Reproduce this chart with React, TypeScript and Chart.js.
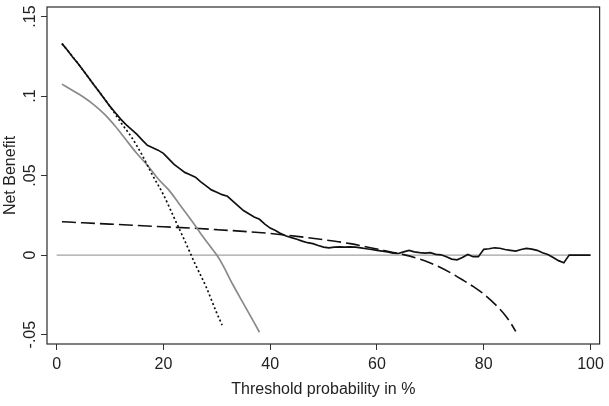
import React, { useEffect, useRef } from "react";
import { Chart, registerables } from "chart.js";

Chart.register(...registerables);

const xTicks = [0, 20, 40, 60, 80, 100];
const yTicks = [-0.05, 0, 0.05, 0.1, 0.15];
const yTickLabels = ["-.05", "0", ".05", ".1", ".15"];

// Solid black (model) net benefit
const modelX = [1, 2, 3, 4, 5, 6, 7, 8, 9, 10, 11, 12, 13, 14, 15, 16, 17, 18, 19, 20, 21, 22, 23, 24, 25, 26, 27, 28, 29, 30, 31, 32, 33, 34, 35, 36, 37, 38, 39, 40, 41, 42, 43, 44, 45, 46, 47, 48, 49, 50, 51, 52, 53, 54, 55, 56, 57, 58, 59, 60, 61, 62, 63, 64, 65, 66, 67, 68, 69, 70, 71, 72, 73, 74, 75, 76, 77, 78, 79, 80, 81, 82, 83, 84, 85, 86, 87, 88, 89, 90, 91, 92, 93, 94, 95, 96, 97, 98, 99, 100];
const modelY = [0.133, 0.129, 0.1245, 0.1205, 0.116, 0.1115, 0.107, 0.1025, 0.098, 0.0935, 0.0895, 0.0855, 0.082, 0.079, 0.076, 0.0725, 0.069, 0.0675, 0.066, 0.064, 0.0605, 0.057, 0.0545, 0.052, 0.0505, 0.049, 0.046, 0.0435, 0.041, 0.0395, 0.038, 0.037, 0.034, 0.031, 0.028, 0.026, 0.024, 0.0225, 0.0195, 0.017, 0.0155, 0.0135, 0.012, 0.011, 0.01, 0.0088, 0.0078, 0.0072, 0.006, 0.005, 0.0045, 0.005, 0.0052, 0.005, 0.0052, 0.005, 0.0045, 0.004, 0.0035, 0.003, 0.0025, 0.002, 0.0012, 0.001, 0.002, 0.003, 0.002, 0.0015, 0.0012, 0.0015, 0.0005, 0.0002, -0.001, -0.0025, -0.003, -0.0015, 0.0004, -0.001, -0.001, 0.0036, 0.004, 0.0046, 0.0043, 0.0035, 0.003, 0.0025, 0.0035, 0.0042, 0.0038, 0.003, 0.0015, 0.0004, -0.0015, -0.0035, -0.0048, 0, 0, 0, 0, 0];

// Dotted black curve
const dottedX = [1, 4, 7, 10, 12, 14, 16, 18, 20, 22, 24, 26, 28, 30, 31];
const dottedY = [0.133, 0.1205, 0.107, 0.0935, 0.0835, 0.0743, 0.063, 0.05, 0.038, 0.0235, 0.009, -0.006, -0.02, -0.0365, -0.044];

// Gray solid curve
const grayX = [1, 3, 5, 7, 9, 11, 13, 15, 17, 19, 21, 23, 25, 27, 29, 30, 31, 33, 35, 37, 38];
const grayY = [0.1075, 0.1035, 0.0994, 0.0945, 0.0885, 0.081, 0.0725, 0.064, 0.0565, 0.048, 0.041, 0.032, 0.023, 0.0135, 0.0045, 0, -0.0055, -0.0185, -0.0305, -0.0425, -0.0485];

// Long-dashed black curve
const dashX = [1, 5, 10, 15, 20, 25, 30, 35, 40, 45, 50, 55, 60, 65, 68, 70, 72, 74, 76, 78, 80, 82, 84, 85, 86];
const dashY = [0.021, 0.0203, 0.0195, 0.0186, 0.0178, 0.017, 0.016, 0.0149, 0.0136, 0.0118, 0.0097, 0.0072, 0.0038, 0.0003, -0.0025, -0.005, -0.0079, -0.0115, -0.0155, -0.0197, -0.0245, -0.0305, -0.0378, -0.0425, -0.048];

// Reference line (no treatment)
const noneX = [0, 100];
const noneY = [0, 0];

const zip = (xs: number[], ys: number[]) => xs.map((x, i) => ({ x, y: ys[i] }));

const FONT = "'Liberation Sans', Arial, sans-serif";

const framePlugin = {
  id: "frame",
  afterDatasetsDraw(chart: any) {
    const { ctx, chartArea } = chart;
    ctx.save();
    ctx.strokeStyle = "#2a2a2a";
    ctx.lineWidth = 1.2;
    ctx.strokeRect(chartArea.left, chartArea.top, chartArea.right - chartArea.left, chartArea.bottom - chartArea.top);
    ctx.restore();
  },
};

export default function App() {
  const ref = useRef<HTMLCanvasElement | null>(null);
  useEffect(() => {
    document.body.style.margin = "0";
    const canvas = ref.current;
    if (!canvas) return;
    const chart = new Chart(canvas, {
      type: "line",
      data: {
        datasets: [
          { data: zip(modelX, modelY), borderColor: "#111", borderWidth: 1.7, pointRadius: 0, tension: 0, order: 1 },
          { data: zip(dottedX, dottedY), borderColor: "#111", borderWidth: 1.7, borderDash: [2, 2.5], pointRadius: 0, cubicInterpolationMode: "monotone", order: 2 },
          { data: zip(grayX, grayY), borderColor: "#8a8a8a", borderWidth: 1.7, pointRadius: 0, cubicInterpolationMode: "monotone", order: 3 },
          { data: zip(dashX, dashY), borderColor: "#111", borderWidth: 1.6, borderDash: [14, 5], pointRadius: 0, cubicInterpolationMode: "monotone", order: 4 },
          { data: zip(noneX, noneY), borderColor: "#8a8a8a", borderWidth: 1, pointRadius: 0, tension: 0, order: 5 },
        ],
      },
      options: {
        animation: false,
        responsive: false,
        parsing: false as any,
        layout: { padding: { left: 0, right: 7, top: 7, bottom: 0 } },
        plugins: { legend: { display: false }, tooltip: { enabled: false } },
        scales: {
          x: {
            type: "linear",
            min: -1.8,
            max: 101.7,
            afterBuildTicks: (s: any) => { s.ticks = xTicks.map((v) => ({ value: v })); },
            afterFit: (s: any) => { s.height = 62; },
            border: { display: false },
            grid: { drawOnChartArea: false, drawTicks: true, tickLength: 6, color: "#333", lineWidth: 1 },
            ticks: { font: { family: FONT, size: 16 }, color: "#222", padding: 5, maxRotation: 0, minRotation: 0 },
            title: { display: true, text: "Threshold probability in %", font: { family: FONT, size: 16 }, color: "#222", padding: { top: 0, bottom: 7 } },
          },
          y: {
            type: "linear",
            min: -0.0559,
            max: 0.156,
            afterBuildTicks: (s: any) => { s.ticks = yTicks.map((v) => ({ value: v })); },
            afterFit: (s: any) => { s.width = 47; },
            border: { display: false },
            grid: { drawOnChartArea: false, drawTicks: true, tickLength: 6, color: "#333", lineWidth: 1 },
            ticks: {
              font: { family: FONT, size: 16 },
              color: "#222",
              padding: -3,
              minRotation: 90,
              maxRotation: 90,
              crossAlign: "center",
              callback: (v: any) => {
                const i = yTicks.findIndex((t) => Math.abs(t - Number(v)) < 1e-9);
                return i >= 0 ? yTickLabels[i] : "";
              },
            },
            title: { display: true, text: "Net Benefit", font: { family: FONT, size: 16 }, color: "#222", padding: { top: 1.2, bottom: 0 } },
          },
        },
      },
      plugins: [framePlugin],
    });
    return () => chart.destroy();
  }, []);
  return (
    <div style={{ width: 609, height: 406 }}>
      <canvas ref={ref} width={609} height={406} style={{ display: "block" }} />
    </div>
  );
}
